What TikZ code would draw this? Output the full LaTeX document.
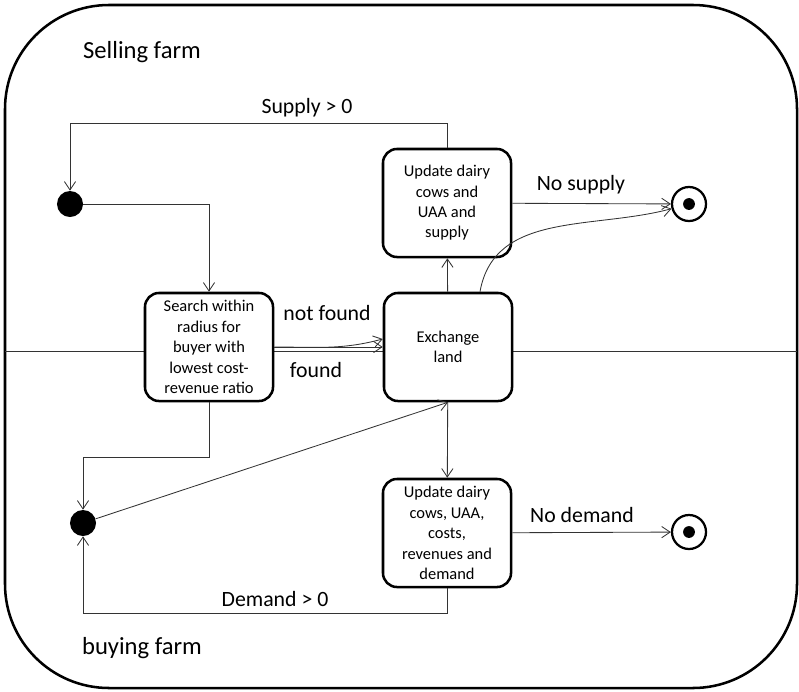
\documentclass[tikz,border=0pt]{standalone}
\usepackage{fontspec}
\setmainfont{Carlito}
\usetikzlibrary{arrows.meta}
\tikzset{
	state/.style = {draw, line width = 1.8pt, rounded corners = 0.35cm, fill = white, minimum width = 3.2cm, minimum height = 2.7cm, inner sep = 1pt, align = center, font = \fontsize{11.7}{14.5}\selectfont},
	startdot/.style = {circle, fill = black, minimum size = 0.65cm, inner sep = 0pt},
	enddot/.style = {circle, draw, fill = white, line width = 1.6pt, minimum size = 0.85cm, inner sep = 0pt},
	trans/.style = {draw = black!80, line width = 0.6pt, -{Straight Barb[length = 6pt, width = 8pt]}},
	tag/.style = {inner sep = 0pt, font = \fontsize{15.5}{18}\selectfont},
	farm/.style = {inner sep = 0pt, font = \fontsize{17.5}{20}\selectfont}
}
\begin{document}
\begin{tikzpicture}[x = 0.025cm, y = -0.025cm]
	\useasboundingbox (0, 0) rectangle (799, 691);
	\draw[line width = 1.8pt, rounded corners = 2.6cm] (5, 5) rectangle (797, 688);
	\draw[black!80, line width = 0.6pt] (5, 351) -- (797, 351);
	\node[farm] (sellfarm) at (142, 52) {Selling farm};
	\node[farm] (buyfarm) at (142, 648) {buying farm};

	\node[state] (search) at (209, 347) {Search within\\radius for\\buyer with\\lowest cost-\\revenue ratio};
	\node[state] (exchange) at (448, 347) {Exchange\\land};
	\node[state] (supply) at (447, 203) {Update dairy\\cows and\\UAA and\\supply};
	\node[state] (demand) at (447, 533) {Update dairy\\cows, UAA,\\costs,\\revenues and\\demand};
	\node[startdot] (sellstart) at (70, 204) {};
	\node[startdot] (buystart) at (83, 523) {};
	\node[enddot] (sellend) at (689, 204) {};
	\node[enddot] (buyend) at (689, 532) {};
	\foreach \e in {sellend, buyend}
	{
		\fill (\e) circle (4.2pt);
	}

	\draw[trans] (sellstart) -| (search);
	\draw[trans] (search.east) -- (exchange.west);
	\draw[trans] (search.east) to[out = 0, in = 195] ([yshift = 0.2cm]exchange.west);
	\draw[trans] (search) -- (search |- 0,457) -| (buystart);
	\draw[trans] (buystart) -- (exchange.south);
	\draw[trans] (exchange) -- (supply);
	\draw[trans] (exchange) -- (demand);
	\draw[trans] ([xshift = 0.8cm]exchange.north) to[out = 80, in = 195] (sellend);
	\draw[trans] (supply) -- (supply |- 0,123) -| (sellstart);
	\draw[trans] (supply) -- (sellend);
	\draw[trans] (demand) -- (buyend);
	\draw[trans] (demand) -- (demand |- 0,613) -| (buystart);

	\node[tag] (supplylbl) at (307, 108) {Supply > 0};
	\node[tag] (nosupplylbl) at (581, 185) {No supply};
	\node[tag] (notfoundlbl) at (327, 313) {not found};
	\node[tag] (foundlbl) at (316, 370) {found};
	\node[tag] (nodemandlbl) at (582, 515) {No demand};
	\node[tag] (demandlbl) at (275, 599) {Demand > 0};
\end{tikzpicture}
\end{document}
